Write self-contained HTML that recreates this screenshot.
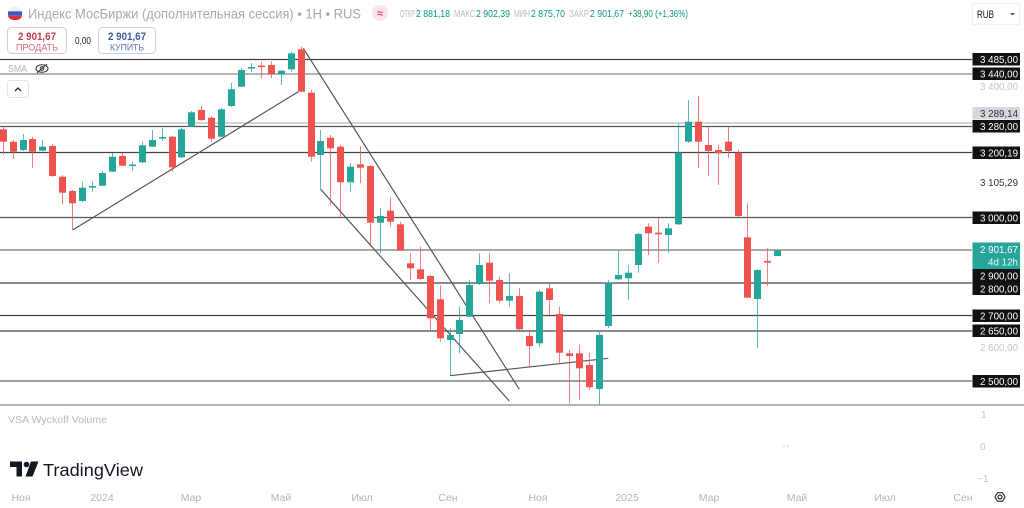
<!DOCTYPE html>
<html><head><meta charset="utf-8">
<style>
html,body{margin:0;padding:0;background:#fff;}
svg{display:block;font-family:"Liberation Sans","Noto Sans CJK SC",sans-serif;}
</style></head>
<body>
<svg width="1024" height="508" viewBox="0 0 1024 508" xmlns="http://www.w3.org/2000/svg">
<rect width="1024" height="508" fill="#fff"/>

<!-- horizontal level lines -->
<g fill="none" stroke-width="1.3">
<line x1="0" y1="59.5" x2="972" y2="59.5" stroke="#444"/>
<line x1="0" y1="74" x2="972" y2="74" stroke="#888"/>
<line x1="0" y1="123" x2="972" y2="123" stroke="#bbb"/>
<line x1="0" y1="126.5" x2="972" y2="126.5" stroke="#555"/>
<line x1="0" y1="152.5" x2="972" y2="152.5" stroke="#444"/>
<line x1="0" y1="217.5" x2="972" y2="217.5" stroke="#555"/>
<line x1="0" y1="250" x2="972" y2="250" stroke="#777"/>
<line x1="0" y1="283" x2="972" y2="283" stroke="#444"/>
<line x1="0" y1="315.5" x2="972" y2="315.5" stroke="#444"/>
<line x1="0" y1="331" x2="972" y2="331" stroke="#444"/>
<line x1="0" y1="381" x2="972" y2="381" stroke="#666"/>
<line x1="0" y1="405" x2="1024" y2="405" stroke="#999" stroke-width="1.6"/>
</g>

<!-- trend lines -->
<g stroke="#555" stroke-width="1.2" fill="none">
<line x1="72.7" y1="230" x2="298.3" y2="91.7"/>
<line x1="303.3" y1="48.3" x2="519.3" y2="389.3"/>
<line x1="320.7" y1="189.3" x2="509.3" y2="401"/>
<line x1="450" y1="375.7" x2="608.3" y2="358.3"/>
</g>

<!-- candles -->
<g id="wicks" stroke-width="1">
<g stroke="#ef5350" stroke-opacity="0.75">
<line x1="3.5" y1="127" x2="3.5" y2="155"/>
<line x1="13.5" y1="140" x2="13.5" y2="159"/>
<line x1="32.5" y1="136.7" x2="32.5" y2="167.7"/>
<line x1="52.5" y1="144" x2="52.5" y2="177"/>
<line x1="62.5" y1="175" x2="62.5" y2="204"/>
<line x1="72.5" y1="190" x2="72.5" y2="230"/>
<line x1="122.5" y1="153" x2="122.5" y2="166"/>
<line x1="172.5" y1="136" x2="172.5" y2="171.7"/>
<line x1="201.5" y1="105.7" x2="201.5" y2="121"/>
<line x1="211.5" y1="116" x2="211.5" y2="141.7"/>
<line x1="261.5" y1="61.7" x2="261.5" y2="78.3"/>
<line x1="271.5" y1="61" x2="271.5" y2="78.3"/>
<line x1="301.5" y1="46.7" x2="301.5" y2="92"/>
<line x1="311.5" y1="90" x2="311.5" y2="161.7"/>
<line x1="330.5" y1="135" x2="330.5" y2="205"/>
<line x1="340.5" y1="145" x2="340.5" y2="218.3"/>
<line x1="360.5" y1="146" x2="360.5" y2="183.3"/>
<line x1="370.5" y1="165" x2="370.5" y2="245"/>
<line x1="390.5" y1="197.3" x2="390.5" y2="226.7"/>
<line x1="400.5" y1="221.7" x2="400.5" y2="251"/>
<line x1="410.5" y1="253" x2="410.5" y2="280"/>
<line x1="420.5" y1="246.7" x2="420.5" y2="280"/>
<line x1="430.5" y1="275" x2="430.5" y2="330"/>
<line x1="440.5" y1="285" x2="440.5" y2="341.7"/>
<line x1="489.5" y1="253.3" x2="489.5" y2="303.3"/>
<line x1="499.5" y1="276.7" x2="499.5" y2="303.3"/>
<line x1="519.5" y1="288.3" x2="519.5" y2="330"/>
<line x1="529.5" y1="330" x2="529.5" y2="366.7"/>
<line x1="549.5" y1="283.3" x2="549.5" y2="316.7"/>
<line x1="559.5" y1="306.7" x2="559.5" y2="363.3"/>
<line x1="569.5" y1="350" x2="569.5" y2="403.3"/>
<line x1="579.5" y1="345" x2="579.5" y2="400"/>
<line x1="589.5" y1="352.7" x2="589.5" y2="390"/>
<line x1="648.5" y1="223.3" x2="648.5" y2="255"/>
<line x1="658.5" y1="218" x2="658.5" y2="262.7"/>
<line x1="698.5" y1="96" x2="698.5" y2="168.3"/>
<line x1="708.5" y1="126.7" x2="708.5" y2="176"/>
<line x1="718.5" y1="145" x2="718.5" y2="185"/>
<line x1="728.5" y1="126.7" x2="728.5" y2="158.3"/>
<line x1="738.5" y1="150" x2="738.5" y2="217"/>
<line x1="747.5" y1="203.3" x2="747.5" y2="298"/>
<line x1="767.5" y1="248.3" x2="767.5" y2="286"/>
</g>
<g stroke="#26a69a" stroke-opacity="0.75">
<line x1="23.5" y1="134" x2="23.5" y2="151"/>
<line x1="42.5" y1="140" x2="42.5" y2="151"/>
<line x1="82.5" y1="181.7" x2="82.5" y2="202"/>
<line x1="92.5" y1="181.7" x2="92.5" y2="191.7"/>
<line x1="102.5" y1="171" x2="102.5" y2="186"/>
<line x1="112.5" y1="153" x2="112.5" y2="172"/>
<line x1="132.5" y1="161.7" x2="132.5" y2="170.7"/>
<line x1="142.5" y1="141.7" x2="142.5" y2="163"/>
<line x1="152.5" y1="130" x2="152.5" y2="147"/>
<line x1="162.5" y1="127.7" x2="162.5" y2="141"/>
<line x1="181.5" y1="128" x2="181.5" y2="158"/>
<line x1="191.5" y1="111" x2="191.5" y2="127"/>
<line x1="221.5" y1="108" x2="221.5" y2="137"/>
<line x1="231.5" y1="83" x2="231.5" y2="107"/>
<line x1="241.5" y1="68" x2="241.5" y2="87"/>
<line x1="251.5" y1="63" x2="251.5" y2="72"/>
<line x1="281.5" y1="70" x2="281.5" y2="85"/>
<line x1="291.5" y1="51.7" x2="291.5" y2="71.7"/>
<line x1="320.5" y1="130" x2="320.5" y2="189.3"/>
<line x1="350.5" y1="163.3" x2="350.5" y2="192.3"/>
<line x1="380.5" y1="208.3" x2="380.5" y2="253.3"/>
<line x1="450.5" y1="328" x2="450.5" y2="375"/>
<line x1="459.5" y1="306.7" x2="459.5" y2="353.3"/>
<line x1="469.5" y1="280" x2="469.5" y2="317"/>
<line x1="479.5" y1="253.3" x2="479.5" y2="285"/>
<line x1="509.5" y1="273.3" x2="509.5" y2="306.7"/>
<line x1="539.5" y1="290" x2="539.5" y2="346.7"/>
<line x1="599.5" y1="331.7" x2="599.5" y2="405"/>
<line x1="608.5" y1="280" x2="608.5" y2="328"/>
<line x1="618.5" y1="250" x2="618.5" y2="280"/>
<line x1="628.5" y1="265" x2="628.5" y2="300"/>
<line x1="638.5" y1="233" x2="638.5" y2="272.7"/>
<line x1="668.5" y1="223" x2="668.5" y2="253.3"/>
<line x1="678.5" y1="123.3" x2="678.5" y2="225"/>
<line x1="688.5" y1="100" x2="688.5" y2="143"/>
<line x1="757.5" y1="269" x2="757.5" y2="348.3"/>
<line x1="777.5" y1="250" x2="777.5" y2="256"/>
</g>
</g>

<g fill="#ef5350">
<rect x="0" y="129.3" width="7" height="12.4"/>
<rect x="10" y="141.7" width="7" height="10"/>
<rect x="29" y="139" width="7" height="12.7"/>
<rect x="49" y="146" width="7" height="30"/>
<rect x="59" y="176.7" width="7" height="16"/>
<rect x="69" y="191" width="7" height="12.3"/>
<rect x="119" y="156" width="7" height="9.7"/>
<rect x="169" y="136.7" width="7" height="30.6"/>
<rect x="198" y="110" width="7" height="10"/>
<rect x="208" y="117.7" width="7" height="21"/>
<rect x="258" y="65.5" width="7" height="1.6"/>
<rect x="268" y="65" width="7" height="9.3"/>
<rect x="298" y="49.3" width="7" height="42.4"/>
<rect x="308" y="92.7" width="7" height="64"/>
<rect x="327" y="137.7" width="7" height="10.6"/>
<rect x="337" y="146.7" width="7" height="35.6"/>
<rect x="357" y="164.3" width="7" height="3.4"/>
<rect x="367" y="166" width="7" height="56.7"/>
<rect x="387" y="210.7" width="7" height="11"/>
<rect x="397" y="224.3" width="7" height="26.4"/>
<rect x="407" y="263.3" width="7" height="5"/>
<rect x="417" y="269.3" width="7" height="9.7"/>
<rect x="427" y="276" width="7" height="42.3"/>
<rect x="437" y="299.3" width="7" height="39"/>
<rect x="486" y="262.7" width="7" height="18"/>
<rect x="496" y="280" width="7" height="20.7"/>
<rect x="516" y="296" width="7" height="33.3"/>
<rect x="526" y="336" width="7" height="10"/>
<rect x="546" y="288.3" width="7" height="11.7"/>
<rect x="556" y="314" width="7" height="38.7"/>
<rect x="566" y="353.3" width="7" height="2.7"/>
<rect x="576" y="353.3" width="7" height="15"/>
<rect x="586" y="365" width="7" height="22.3"/>
<rect x="645" y="226.7" width="7" height="6.6"/>
<rect x="655" y="232.7" width="7" height="1.6"/>
<rect x="695" y="121.7" width="7" height="20"/>
<rect x="705" y="145" width="7" height="6"/>
<rect x="715" y="150" width="7" height="3.3"/>
<rect x="725" y="141.7" width="7" height="9.3"/>
<rect x="735" y="152.7" width="7" height="63.3"/>
<rect x="744" y="237.3" width="7" height="60.4"/>
<rect x="764" y="261" width="7" height="1.6"/>
</g>
<g fill="#26a69a">
<rect x="20" y="140" width="7" height="10"/>
<rect x="39" y="146.7" width="7" height="4"/>
<rect x="79" y="187.7" width="7" height="13.3"/>
<rect x="89" y="186" width="7" height="1.6"/>
<rect x="99" y="173" width="7" height="12.7"/>
<rect x="109" y="156.7" width="7" height="15"/>
<rect x="129" y="164.5" width="7" height="1.6"/>
<rect x="139" y="145.3" width="7" height="17"/>
<rect x="149" y="140" width="7" height="6.7"/>
<rect x="159" y="137" width="7" height="1.6"/>
<rect x="178" y="129.3" width="7" height="28"/>
<rect x="188" y="112.3" width="7" height="14.4"/>
<rect x="218" y="109.3" width="7" height="27.4"/>
<rect x="228" y="89.3" width="7" height="16.7"/>
<rect x="238" y="70" width="7" height="16.7"/>
<rect x="248" y="67" width="7" height="1.6"/>
<rect x="278" y="70.7" width="7" height="3.6"/>
<rect x="288" y="53.3" width="7" height="16"/>
<rect x="317" y="141" width="7" height="14"/>
<rect x="347" y="166.7" width="7" height="15.6"/>
<rect x="377" y="216" width="7" height="6.7"/>
<rect x="447" y="335" width="7" height="5"/>
<rect x="456" y="320" width="7" height="14"/>
<rect x="466" y="285" width="7" height="31.7"/>
<rect x="476" y="265" width="7" height="19"/>
<rect x="506" y="296" width="7" height="4.7"/>
<rect x="536" y="291.7" width="7" height="51.6"/>
<rect x="596" y="335" width="7" height="54"/>
<rect x="605" y="282.7" width="7" height="43.3"/>
<rect x="615" y="275" width="7" height="4.3"/>
<rect x="625" y="272.7" width="7" height="5.6"/>
<rect x="635" y="234" width="7" height="31"/>
<rect x="665" y="228.3" width="7" height="6.7"/>
<rect x="675" y="152.7" width="7" height="71.6"/>
<rect x="685" y="121.7" width="7" height="20"/>
<rect x="754" y="270" width="7" height="29"/>
<rect x="774" y="250.7" width="7" height="5.3"/>
</g>

<!-- header -->
<g>
<clipPath id="flag"><rect x="8" y="7" width="14" height="13" rx="5"/></clipPath>
<g clip-path="url(#flag)">
<rect x="8" y="7" width="14" height="4.3" fill="#f0f0f0"/>
<rect x="8" y="11.3" width="14" height="4.4" fill="#3a5bbf"/>
<rect x="8" y="15.7" width="14" height="4.3" fill="#d8343c"/>
</g>
<text x="28" y="18.5" font-size="14" fill="#a6a9b1" textLength="333" lengthAdjust="spacingAndGlyphs">Индекс МосБиржи (дополнительная сессия) • 1H • RUS</text>
<circle cx="380" cy="13" r="8" fill="#fce4ec"/>
<text x="380" y="17" font-size="11" fill="#e0457b" text-anchor="middle" font-weight="bold">≈</text>
<g font-size="10.5">
<text x="400" y="17" fill="#b8bbc3" textLength="15" lengthAdjust="spacingAndGlyphs">ОТКР</text>
<text x="416" y="17" fill="#089981" textLength="34" lengthAdjust="spacingAndGlyphs">2 881,18</text>
<text x="454" y="17" fill="#b8bbc3" textLength="21" lengthAdjust="spacingAndGlyphs">МАКС</text>
<text x="476" y="17" fill="#089981" textLength="34" lengthAdjust="spacingAndGlyphs">2 902,39</text>
<text x="514" y="17" fill="#b8bbc3" textLength="16" lengthAdjust="spacingAndGlyphs">МИН</text>
<text x="531" y="17" fill="#089981" textLength="34" lengthAdjust="spacingAndGlyphs">2 875,70</text>
<text x="569" y="17" fill="#b8bbc3" textLength="20" lengthAdjust="spacingAndGlyphs">ЗАКР</text>
<text x="590" y="17" fill="#089981" textLength="34" lengthAdjust="spacingAndGlyphs">2 901,67</text>
<text x="628" y="17" fill="#089981" textLength="60" lengthAdjust="spacingAndGlyphs">+38,90 (+1,36%)</text>
</g>
<rect x="972.5" y="3.5" width="47" height="21" fill="#fff" stroke="#f0f1f3"/>
<text x="977" y="18" font-size="11" fill="#131722" textLength="17" lengthAdjust="spacingAndGlyphs">RUB</text>
<path d="M1010 13 l2.5 2.5 l2.5 -2.5 z" fill="#555"/>

<rect x="7.5" y="27.5" width="59" height="26" rx="4" fill="#fff" stroke="#e3c6c9"/>
<text x="37" y="40" font-size="11" fill="#c2404f" text-anchor="middle" textLength="38" lengthAdjust="spacingAndGlyphs" font-weight="bold">2 901,67</text>
<text x="37" y="50.5" font-size="9.5" fill="#d06a78" text-anchor="middle" textLength="42" lengthAdjust="spacingAndGlyphs">ПРОДАТЬ</text>
<text x="75" y="44" font-size="10" fill="#222" textLength="16" lengthAdjust="spacingAndGlyphs">0,00</text>
<rect x="98.5" y="27.5" width="57" height="26" rx="4" fill="#fff" stroke="#c9d0dc"/>
<text x="127" y="40" font-size="11" fill="#3c5d9a" text-anchor="middle" textLength="38" lengthAdjust="spacingAndGlyphs" font-weight="bold">2 901,67</text>
<text x="127" y="50.5" font-size="9.5" fill="#5a78b0" text-anchor="middle" textLength="34" lengthAdjust="spacingAndGlyphs">КУПИТЬ</text>

<text x="8" y="72" font-size="10.5" fill="#b2b5be" textLength="19" lengthAdjust="spacingAndGlyphs">SMA</text>
<g fill="none" stroke="#333" stroke-width="1">
<ellipse cx="42" cy="68.5" rx="6" ry="3.8"/>
<circle cx="42" cy="68.5" r="1.8"/>
<line x1="37" y1="73" x2="47" y2="64"/>
</g>
<rect x="7.5" y="80.5" width="21" height="17" rx="3" fill="#fff" stroke="#e0e3eb"/>
<path d="M15 91 l3 -3 l3 3" fill="none" stroke="#222" stroke-width="1.3"/>
</g>

<!-- right price axis -->
<g font-size="10.5" text-anchor="end">
<rect x="972.5" y="53" width="47.5" height="12.5" fill="#111"/>
<text x="1018" y="63" fill="#fff" textLength="38" lengthAdjust="spacingAndGlyphs">3 485,00</text>
<rect x="972.5" y="67.5" width="47.5" height="12.5" fill="#111"/>
<text x="1018" y="77.5" fill="#fff" textLength="38" lengthAdjust="spacingAndGlyphs">3 440,00</text>
<text x="1018" y="90" fill="#c3c6cc" textLength="38" lengthAdjust="spacingAndGlyphs">3 400,00</text>
<rect x="972.5" y="107" width="47.5" height="12.5" fill="#d6d8de"/>
<text x="1018" y="117" fill="#2a2e39" textLength="38" lengthAdjust="spacingAndGlyphs">3 289,14</text>
<rect x="972.5" y="120" width="47.5" height="12.5" fill="#111"/>
<text x="1018" y="130" fill="#fff" textLength="38" lengthAdjust="spacingAndGlyphs">3 280,00</text>
<rect x="972.5" y="146.5" width="47.5" height="12.5" fill="#111"/>
<text x="1018" y="156.5" fill="#fff" textLength="38" lengthAdjust="spacingAndGlyphs">3 200,19</text>
<text x="1018" y="186" fill="#333" textLength="38" lengthAdjust="spacingAndGlyphs">3 105,29</text>
<rect x="972.5" y="211.5" width="47.5" height="12.5" fill="#111"/>
<text x="1018" y="221.5" fill="#fff" textLength="38" lengthAdjust="spacingAndGlyphs">3 000,00</text>
<rect x="972.5" y="242.5" width="47.5" height="26.5" fill="#26a69a"/>
<text x="1018" y="253" fill="#fff" textLength="38" lengthAdjust="spacingAndGlyphs">2 901,67</text>
<text x="1018" y="265.5" fill="#e6f7f5" textLength="30" lengthAdjust="spacingAndGlyphs">4d 12h</text>
<rect x="972.5" y="269" width="47.5" height="13" fill="#111"/>
<text x="1018" y="279.5" fill="#fff" textLength="38" lengthAdjust="spacingAndGlyphs">2 900,00</text>
<rect x="972.5" y="282" width="47.5" height="13" fill="#111"/>
<text x="1018" y="292.5" fill="#fff" textLength="38" lengthAdjust="spacingAndGlyphs">2 800,00</text>
<rect x="972.5" y="309.5" width="47.5" height="12.5" fill="#111"/>
<text x="1018" y="319.5" fill="#fff" textLength="38" lengthAdjust="spacingAndGlyphs">2 700,00</text>
<rect x="972.5" y="324.5" width="47.5" height="12.5" fill="#111"/>
<text x="1018" y="334.5" fill="#fff" textLength="38" lengthAdjust="spacingAndGlyphs">2 650,00</text>
<text x="1018" y="351" fill="#c3c6cc" textLength="38" lengthAdjust="spacingAndGlyphs">2 600,00</text>
<rect x="972.5" y="375" width="47.5" height="12.5" fill="#111"/>
<text x="1018" y="385" fill="#fff" textLength="38" lengthAdjust="spacingAndGlyphs">2 500,00</text>
</g>

<!-- indicator pane -->
<text x="8" y="423" font-size="10" fill="#b8bbc3" textLength="99" lengthAdjust="spacingAndGlyphs">VSA Wyckoff Volume</text>
<circle cx="784" cy="446" r="0.7" fill="#bbb"/>
<circle cx="788" cy="446" r="0.7" fill="#bbb"/>
<g font-size="10" fill="#c3c6cc">
<text x="981" y="418">1</text>
<text x="980" y="450">0</text>
<text x="977" y="482">−1</text>
</g>

<!-- TradingView logo -->
<g fill="#131722">
<path d="M10 461.5 H22 V476.5 H16.5 V467 H10 Z"/>
<circle cx="26.5" cy="464.5" r="2.8"/>
<path d="M31 461.5 H38.5 L32.5 476.5 H25.5 Z"/>
</g>
<text x="43" y="476" font-size="17.5" fill="#131722" textLength="100" lengthAdjust="spacingAndGlyphs">TradingView</text>

<!-- time axis -->
<g font-size="10.5" fill="#b2b5be" text-anchor="middle">
<text x="21" y="501">Ноя</text>
<text x="102" y="501">2024</text>
<text x="191" y="501">Мар</text>
<text x="281" y="501">Май</text>
<text x="362" y="501">Июл</text>
<text x="448" y="501">Сен</text>
<text x="538" y="501">Ноя</text>
<text x="627" y="501">2025</text>
<text x="709" y="501">Мар</text>
<text x="797" y="501">Май</text>
<text x="885" y="501">Июл</text>
<text x="963" y="501">Сен</text>
</g>
<g fill="none" stroke="#333" stroke-width="1.2">
<path d="M995 497 L997.5 492.7 H1002.5 L1005 497 L1002.5 501.3 H997.5 Z"/>
<circle cx="1000" cy="497" r="2"/>
</g>
</svg>
</body></html>
